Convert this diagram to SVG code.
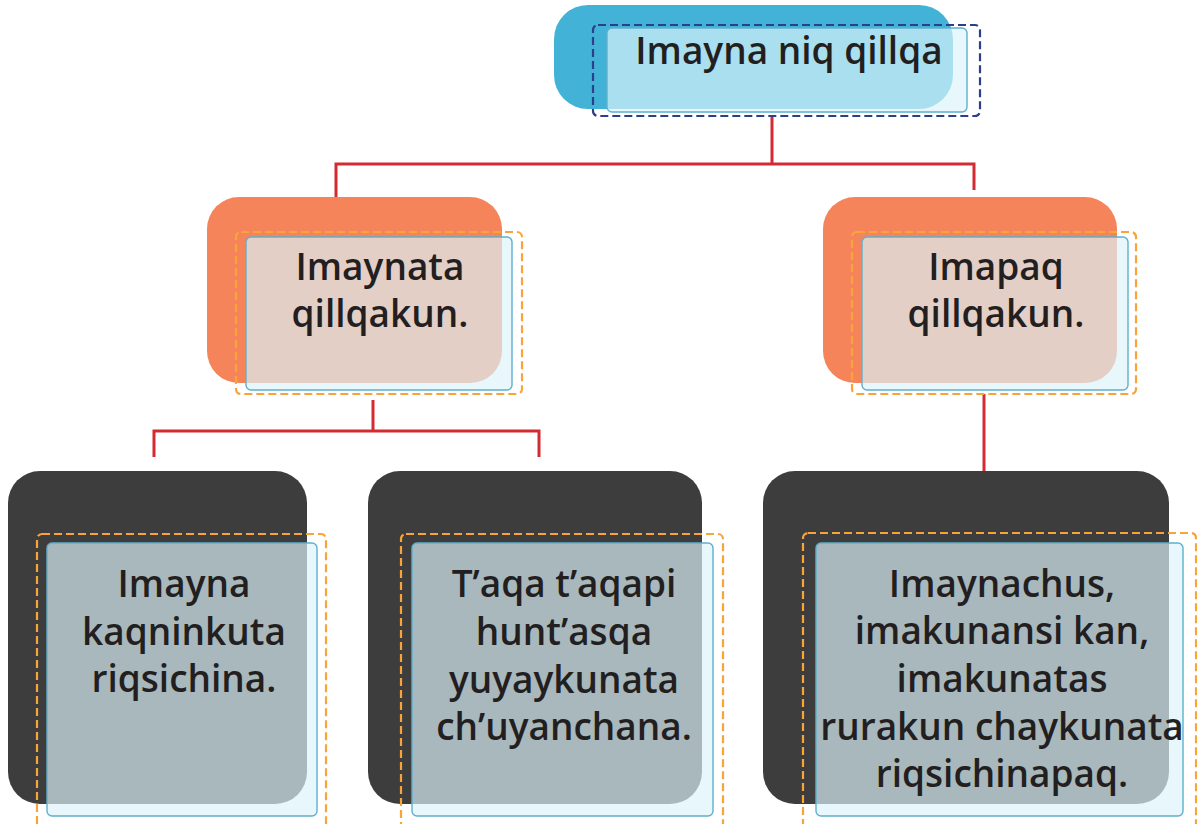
<svg xmlns="http://www.w3.org/2000/svg" width="1197" height="824" viewBox="0 0 1197 824">
<style>
.blue{fill:#42b3d6}
.orange{fill:#f5845a}
.dark{fill:#3d3d3d}
.light{fill:#dcf3fa;fill-opacity:0.68;stroke:#5fb0cc;stroke-width:1.4}
.dashO{fill:none;stroke:#f9a43a;stroke-width:2.2;stroke-dasharray:8 4}
.dashN{fill:none;stroke:#2d3f8c;stroke-width:2.2;stroke-dasharray:8 4}
.t{font-family:"Open Sans","Noto Sans",sans-serif;font-weight:600;font-size:37px;fill:#231f20;text-anchor:middle}
.c{fill:none;stroke:#d42a32;stroke-width:3}
</style>
<g id="connectors">
<path class="c" d="M772 117V164M336 197V164H974V190"/>
<path class="c" d="M373 400V431M154 457V431H539V457"/>
<path class="c" d="M984 394V471"/>
</g>
<g id="node-root">
<rect class="blue" x="554" y="5" width="399" height="104" rx="34"/>
<rect class="light" x="607" y="28" width="360" height="84" rx="5"/>
<rect class="dashN" x="593" y="25" width="387" height="91" rx="5"/>
<text class="t" x="789" y="64">Imayna niq qillqa</text>
</g>
<g id="node-left">
<rect class="orange" x="207" y="197" width="295" height="186" rx="32"/>
<rect class="light" x="246" y="237" width="266" height="153" rx="5"/>
<rect class="dashO" x="236" y="232" width="286" height="162" rx="5"/>
<text class="t" x="380" y="280">Imaynata</text>
<text class="t" x="380" y="327">qillqakun.</text>
</g>
<g id="node-right">
<rect class="orange" x="823" y="197" width="294" height="186" rx="32"/>
<rect class="light" x="862" y="237" width="266" height="153" rx="5"/>
<rect class="dashO" x="852" y="232" width="284" height="162" rx="5"/>
<text class="t" x="996" y="280">Imapaq</text>
<text class="t" x="996" y="327">qillqakun.</text>
</g>
<g id="node-b1">
<rect class="dark" x="8" y="471" width="299" height="333" rx="32"/>
<rect class="light" x="47" y="543" width="270" height="273" rx="5"/>
<rect class="dashO" x="37" y="534" width="289" height="300" rx="5"/>
<text class="t" x="184" y="597">Imayna</text>
<text class="t" x="184" y="645">kaqninkuta</text>
<text class="t" x="184" y="692">riqsichina.</text>
</g>
<g id="node-b2">
<rect class="dark" x="368" y="471" width="334" height="333" rx="32"/>
<rect class="light" x="412" y="543" width="301" height="273" rx="5"/>
<rect class="dashO" x="401" y="534" width="322" height="300" rx="5"/>
<text class="t" x="564" y="597">T’aqa t’aqapi</text>
<text class="t" x="564" y="645">hunt’asqa</text>
<text class="t" x="564" y="693">yuyaykunata</text>
<text class="t" x="564" y="740">ch’uyanchana.</text>
</g>
<g id="node-b3">
<rect class="dark" x="763" y="471" width="406" height="333" rx="32"/>
<rect class="light" x="816" y="543" width="367" height="273" rx="5"/>
<rect class="dashO" x="803" y="533" width="393" height="300" rx="5"/>
<text class="t" x="1002" y="597">Imaynachus,</text>
<text class="t" x="1002" y="644">imakunansi kan,</text>
<text class="t" x="1002" y="692">imakunatas</text>
<text class="t" x="1002" y="740">rurakun chaykunata</text>
<text class="t" x="1002" y="787">riqsichinapaq.</text>
</g>
</svg>
